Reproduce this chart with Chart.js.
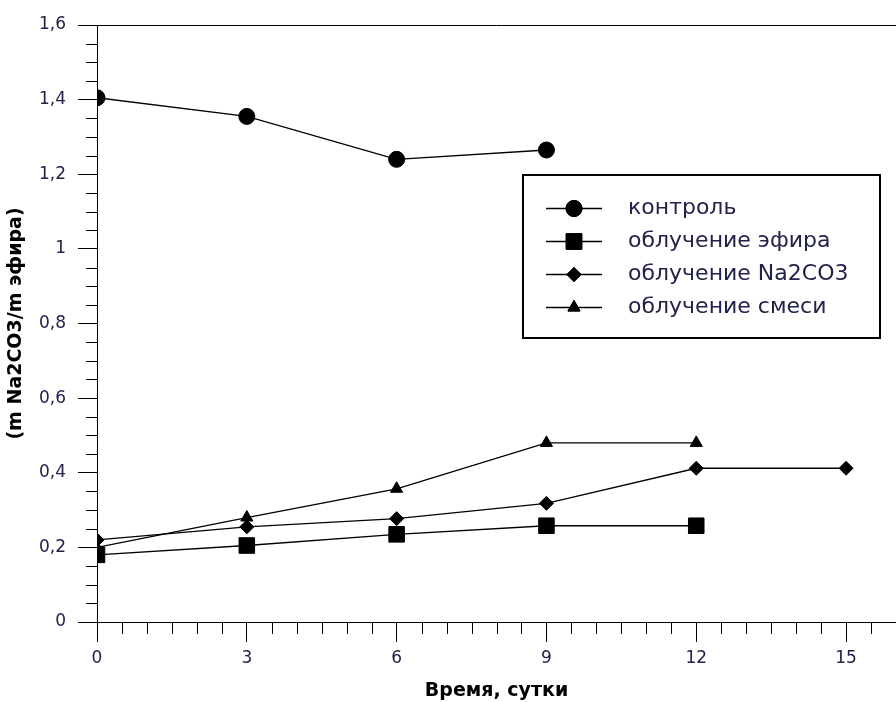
<!DOCTYPE html>
<html>
<head>
<meta charset="utf-8">
<script src="https://cdn.jsdelivr.net/npm/chart.js@4.4.0/dist/chart.umd.min.js"></script>
<style>
  html, body { margin: 0; padding: 0; background: #ffffff; }
  #wrap { width: 896px; height: 702px; position: relative; }
</style>
</head>
<body>
<div id="wrap"><canvas id="chart"></canvas></div>
<script>
// Измерения по суткам
const daysControl = [0, 3, 6, 9];
const controlValues = [1.405, 1.355, 1.24, 1.265];

const daysEther = [0, 3, 6, 9, 12];
const etherValues = [0.18, 0.205, 0.235, 0.258, 0.258];

const daysSoda = [0, 3, 6, 9, 12, 15];
const sodaValues = [0.22, 0.255, 0.277, 0.318, 0.412, 0.412];

const daysMix = [0, 3, 6, 9, 12];
const mixValues = [0.2, 0.28, 0.357, 0.48, 0.48];

const seriesNames = ['контроль', 'облучение эфира', 'облучение Na2CO3', 'облучение смеси'];
const yTickLabels = ['0', '0,2', '0,4', '0,6', '0,8', '1', '1,2', '1,4', '1,6'];
const xTickLabels = ['0', '3', '6', '9', '12', '15'];
const xTitle = 'Время, сутки';
const yTitle = '(m Na2CO3/m эфира)';

const FONT = '"DejaVu Sans", Verdana, sans-serif';
const TICK_COLOR = '#22224a';

function toPoints(xs, ys) {
  return ys.map((v, i) => ({ x: xs[i], y: v }));
}

function series(label, xs, ys, style, radius) {
  return {
    label: label,
    data: toPoints(xs, ys),
    borderColor: '#000000',
    backgroundColor: '#000000',
    borderWidth: 1.3,
    pointStyle: style,
    pointRadius: radius,
    pointHoverRadius: radius,
    pointBorderWidth: 1,
    pointBackgroundColor: '#000000',
    pointBorderColor: '#000000',
    tension: 0,
    fill: false,
    clip: { left: 0, top: false, right: false, bottom: false }
  };
}

// Малые деления осей и верхняя рамка
const minorTicks = {
  id: 'minorTicks',
  afterDraw(chart) {
    const { ctx, chartArea, scales } = chart;
    const xs = scales.x, ys = scales.y;
    ctx.save();
    ctx.strokeStyle = '#000000';
    ctx.lineWidth = 1;
    ctx.beginPath();
    for (let i = 0; i <= 32; i++) {
      if (i % 4 === 0) continue;
      const py = Math.round(ys.getPixelForValue(i * 0.05)) + 0.5;
      ctx.moveTo(chartArea.left - 11, py);
      ctx.lineTo(chartArea.left, py);
    }
    for (let i = 0; i <= 32; i++) {
      if (i % 6 === 0) continue;
      const px = Math.round(xs.getPixelForValue(i * 0.5)) + 0.5;
      ctx.moveTo(px, chartArea.bottom);
      ctx.lineTo(px, chartArea.bottom + 12);
    }
    const top = Math.round(chartArea.top) + 0.5;
    ctx.moveTo(chartArea.left, top);
    ctx.lineTo(chartArea.right, top);
    ctx.stroke();
    ctx.restore();
  }
};

// Легенда в рамке внутри области графика
const boxLegend = {
  id: 'boxLegend',
  afterDraw(chart) {
    const { ctx } = chart;
    const left = 523, top = 175, width = 357, height = 163;
    const rowY = [208, 241, 274, 307];
    ctx.save();
    ctx.fillStyle = '#ffffff';
    ctx.fillRect(left, top, width, height);
    ctx.strokeStyle = '#000000';
    ctx.lineWidth = 2;
    ctx.strokeRect(left, top, width, height);
    chart.data.datasets.forEach((ds, i) => {
      const y = rowY[i] + 0.5;
      ctx.beginPath();
      ctx.lineWidth = 1.5;
      ctx.strokeStyle = '#000000';
      ctx.moveTo(546, y);
      ctx.lineTo(602, y);
      ctx.stroke();
      ctx.lineWidth = 1;
      ctx.fillStyle = '#000000';
      Chart.helpers.drawPoint(ctx, {
        pointStyle: ds.pointStyle,
        radius: ds.pointRadius,
        rotation: 0,
        borderWidth: 1
      }, 574, y);
      ctx.fill();
      ctx.stroke();
      ctx.fillStyle = TICK_COLOR;
      ctx.font = '22px ' + FONT;
      ctx.textBaseline = 'middle';
      ctx.textAlign = 'left';
      ctx.fillText(ds.label, 628, y);
    });
    ctx.restore();
  }
};

new Chart(document.getElementById('chart'), {
  type: 'line',
  data: {
    datasets: [
      series(seriesNames[0], daysControl, controlValues, 'circle', 8),
      series(seriesNames[1], daysEther, etherValues, 'rect', 11),
      series(seriesNames[2], daysSoda, sodaValues, 'rectRot', 7),
      series(seriesNames[3], daysMix, mixValues, 'triangle', 7)
    ]
  },
  options: {
    responsive: true,
    maintainAspectRatio: false,
    animation: false,
    events: [],
    layout: { autoPadding: false, padding: { top: 25, right: 0, left: 0, bottom: 0 } },
    plugins: {
      legend: { display: false },
      tooltip: { enabled: false }
    },
    scales: {
      x: {
        type: 'linear',
        position: 'bottom',
        min: 0,
        max: 16,
        afterFit(scale) { scale.height = 80; },
        ticks: {
          stepSize: 3,
          includeBounds: false,
          color: TICK_COLOR,
          font: { family: FONT, size: 17 },
          padding: 6,
          maxRotation: 0,
          callback(value, index) { return xTickLabels[index]; }
        },
        grid: { drawOnChartArea: false, drawTicks: true, tickLength: 20, color: '#000000', lineWidth: 1 },
        border: { display: true, color: '#000000', width: 1 },
        title: {
          display: true,
          text: xTitle,
          color: '#000000',
          font: { family: FONT, size: 19, weight: 'bold' },
          padding: { top: 0, bottom: 0 }
        }
      },
      y: {
        type: 'linear',
        min: 0,
        max: 1.6,
        afterFit(scale) { scale.width = 97; },
        ticks: {
          stepSize: 0.2,
          color: TICK_COLOR,
          font: { family: FONT, size: 17 },
          padding: 12,
          callback(value, index) { return yTickLabels[index]; }
        },
        grid: { drawOnChartArea: false, drawTicks: true, tickLength: 19, color: '#000000', lineWidth: 1 },
        border: { display: true, color: '#000000', width: 1 },
        title: {
          display: true,
          text: yTitle,
          color: '#000000',
          font: { family: FONT, size: 19, weight: 'bold' },
          padding: { top: 5, bottom: 0 }
        }
      }
    }
  },
  plugins: [minorTicks, boxLegend]
});
</script>
</body>
</html>
